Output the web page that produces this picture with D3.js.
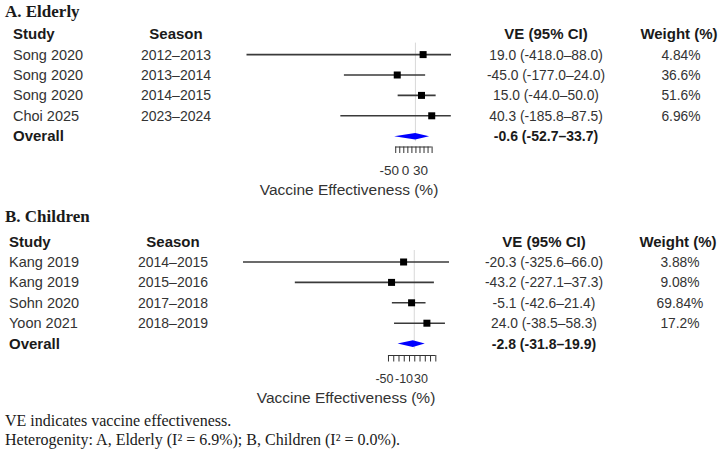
<!DOCTYPE html>
<html>
<head>
<meta charset="utf-8">
<script src="https://cdn.jsdelivr.net/npm/d3@7"></script>
<style>
  body { margin: 0; background: #fff; }
  svg text { fill: #1a1a1a; }
</style>
</head>
<body>
<div id="plot"></div>
<script>
// A. Elderly
var elderlyStudy  = ["Song 2020", "Song 2020", "Song 2020", "Choi 2025"];
var elderlySeason = ["2012\u20132013", "2013\u20132014", "2014\u20132015", "2023\u20132024"];
var elderlyVE     = [19.0, -45.0, 15.0, 40.3];
var elderlyLo     = [-418.0, -177.0, -44.0, -185.8];
var elderlyHi     = [88.0, 24.0, 50.0, 87.5];
var elderlyWeight = ["4.84%", "36.6%", "51.6%", "6.96%"];
var elderlyOverall = [-0.6, -52.7, 33.7];

// B. Children
var childStudy  = ["Kang 2019", "Kang 2019", "Sohn 2020", "Yoon 2021"];
var childSeason = ["2014\u20132015", "2015\u20132016", "2017\u20132018", "2018\u20132019"];
var childVE     = [-20.3, -43.2, -5.1, 24.0];
var childLo     = [-325.6, -227.1, -42.6, -38.5];
var childHi     = [66.0, 37.3, 21.4, 58.3];
var childWeight = ["3.88%", "9.08%", "69.84%", "17.2%"];
var childOverall = [-2.8, -31.8, 19.9];

var axisTicks = [-50, -40, -30, -20, -10, 0, 10, 20, 30, 40];
var elderlyTickLabels = [-50, 0, 30];
var childTickLabels = [-50, -10, 30];

var W = 722, H = 455;
var sans = "'Liberation Sans', Arial, sans-serif";
var serif = "'Liberation Serif', 'Times New Roman', serif";

var svg = d3.select("#plot").append("svg")
  .attr("width", W).attr("height", H)
  .style("display", "block");

function fmt(v) { return v.toFixed(1); }
function ciText(d) { return fmt(d.ve) + " (" + fmt(d.lo) + "\u2013" + fmt(d.hi) + ")"; }

function panel(opt) {
  var g = svg.append("g");
  var rows = opt.study.map(function(s, i) {
    return { study: s, season: opt.season[i], ve: opt.ve[i], lo: opt.lo[i], hi: opt.hi[i], w: opt.weight[i] };
  });
  var x = d3.scaleLinear().domain(opt.xDomain).range(opt.xRange);
  var y = function(i) { return opt.row0 + i * 20.4; };

  g.append("text").attr("x", 5).attr("y", opt.titleY)
    .style("font-family", serif).style("font-weight", "bold").style("font-size", "17px")
    .text(opt.title);

  // headers
  var hy = opt.row0 - 20.4 + 5;
  g.append("text").attr("x", opt.studyX).attr("y", hy)
    .style("font-family", sans).style("font-weight", "bold").style("font-size", "15px").text("Study");
  g.append("text").attr("x", opt.seasonX).attr("y", hy).attr("text-anchor", "middle")
    .style("font-family", sans).style("font-weight", "bold").style("font-size", "15px").text("Season");
  g.append("text").attr("x", opt.veX).attr("y", hy).attr("text-anchor", "middle")
    .style("font-family", sans).style("font-weight", "bold").style("font-size", "15px").text("VE (95% CI)");
  g.append("text").attr("x", opt.wX).attr("y", hy).attr("text-anchor", "middle")
    .style("font-family", sans).style("font-weight", "bold").style("font-size", "15px").text("Weight (%)");

  // zero line
  g.append("line")
    .attr("x1", x(0)).attr("x2", x(0))
    .attr("y1", opt.row0 - 12).attr("y2", y(4) + 5)
    .attr("stroke", "#d9d9d9").attr("stroke-width", 1);

  var r = g.selectAll("g.row").data(rows).enter().append("g").attr("class", "row");
  r.append("text").attr("x", opt.studyX).attr("y", function(d, i) { return y(i) + 5; })
    .style("font-family", sans).style("font-size", "14.5px").style("fill", "#333").text(function(d) { return d.study; });
  r.append("text").attr("x", opt.seasonX).attr("y", function(d, i) { return y(i) + 5; }).attr("text-anchor", "middle")
    .style("font-family", sans).style("font-size", "14px").style("fill", "#333").text(function(d) { return d.season; });
  r.append("text").attr("x", opt.veX).attr("y", function(d, i) { return y(i) + 5; }).attr("text-anchor", "middle")
    .style("font-family", sans).style("font-size", "13.8px").style("fill", "#333").text(ciText);
  r.append("text").attr("x", opt.wX + 2).attr("y", function(d, i) { return y(i) + 5; }).attr("text-anchor", "middle")
    .style("font-family", sans).style("font-size", "13.8px").style("fill", "#333").text(function(d) { return d.w; });

  // CI lines
  r.append("line")
    .attr("x1", function(d) { return x(d.lo); })
    .attr("x2", function(d) { return x(d.hi); })
    .attr("y1", function(d, i) { return y(i); })
    .attr("y2", function(d, i) { return y(i); })
    .attr("stroke", "#3a3a3a").attr("stroke-width", 1.6);
  // squares
  r.append("rect")
    .attr("x", function(d) { return x(d.ve) - 3.5; })
    .attr("y", function(d, i) { return y(i) - 3.5; })
    .attr("width", 7).attr("height", 7)
    .attr("fill", "#000");

  // overall
  var oy = y(4);
  g.append("text").attr("x", opt.studyX).attr("y", oy + 5)
    .style("font-family", sans).style("font-weight", "bold").style("font-size", "15px").text("Overall");
  g.append("text").attr("x", opt.veX).attr("y", oy + 5).attr("text-anchor", "middle")
    .style("font-family", sans).style("font-weight", "bold").style("font-size", "14px")
    .text(ciText({ ve: opt.overall[0], lo: opt.overall[1], hi: opt.overall[2] }));
  var o = opt.overall;
  g.append("path")
    .attr("d", "M" + x(o[1]) + "," + oy + "L" + x(o[0]) + "," + (oy - 3.3) + "L" + x(o[2]) + "," + oy + "L" + x(o[0]) + "," + (oy + 3.3) + "Z")
    .attr("fill", "#0000ff");

  // axis
  var ax = g.append("g").attr("transform", "translate(0," + opt.axisY + ")")
    .call(d3.axisBottom(x).tickValues(axisTicks).tickSize(6.5).tickFormat(""));
  ax.select(".domain").attr("stroke", "#333").attr("d", "M" + x(-50) + ",0.5H" + x(40));
  ax.selectAll(".tick line").attr("stroke", "#333");

  g.selectAll("text.tl").data(opt.tickLabels).enter().append("text")
    .attr("class", "tl")
    .attr("x", function(d, i) { return x(d) + opt.labelNudge[i]; })
    .attr("y", opt.axisY + 28)
    .attr("text-anchor", "middle")
    .style("font-family", sans).style("font-size", opt.tickFont).style("fill", "#333")
    .text(function(d) { return d; });

  g.append("text").attr("x", opt.axisTitleX).attr("y", opt.axisY + 48).attr("text-anchor", "middle")
    .style("font-family", sans).style("font-size", "15.5px").style("fill", "#333")
    .text("Vaccine Effectiveness (%)");
}

panel({
  title: "A. Elderly", titleY: 17,
  study: elderlyStudy, season: elderlySeason, ve: elderlyVE, lo: elderlyLo, hi: elderlyHi,
  weight: elderlyWeight, overall: elderlyOverall,
  xDomain: [-418, 88], xRange: [246.5, 451],
  row0: 54.6, studyX: 13, seasonX: 176, veX: 546, wX: 679,
  axisY: 146.5, tickLabels: elderlyTickLabels, labelNudge: [-6, -10, -7], tickFont: "13.5px", axisTitleX: 349
});

panel({
  title: "B. Children", titleY: 222,
  study: childStudy, season: childSeason, ve: childVE, lo: childLo, hi: childHi,
  weight: childWeight, overall: childOverall,
  xDomain: [-325.6, 66], xRange: [243, 449],
  row0: 262, studyX: 9, seasonX: 173, veX: 544, wX: 678,
  axisY: 355, tickLabels: childTickLabels, labelNudge: [-3.5, -5, -9], tickFont: "12.5px", axisTitleX: 346
});

// footnotes
svg.append("text").attr("x", 5).attr("y", 426)
  .style("font-family", serif).style("font-size", "16px")
  .text("VE indicates vaccine effectiveness.");
svg.append("text").attr("x", 5).attr("y", 445)
  .style("font-family", serif).style("font-size", "16px")
  .text("Heterogenity: A, Elderly (I\u00b2 = 6.9%); B, Children (I\u00b2 = 0.0%).");
</script>
</body>
</html>
